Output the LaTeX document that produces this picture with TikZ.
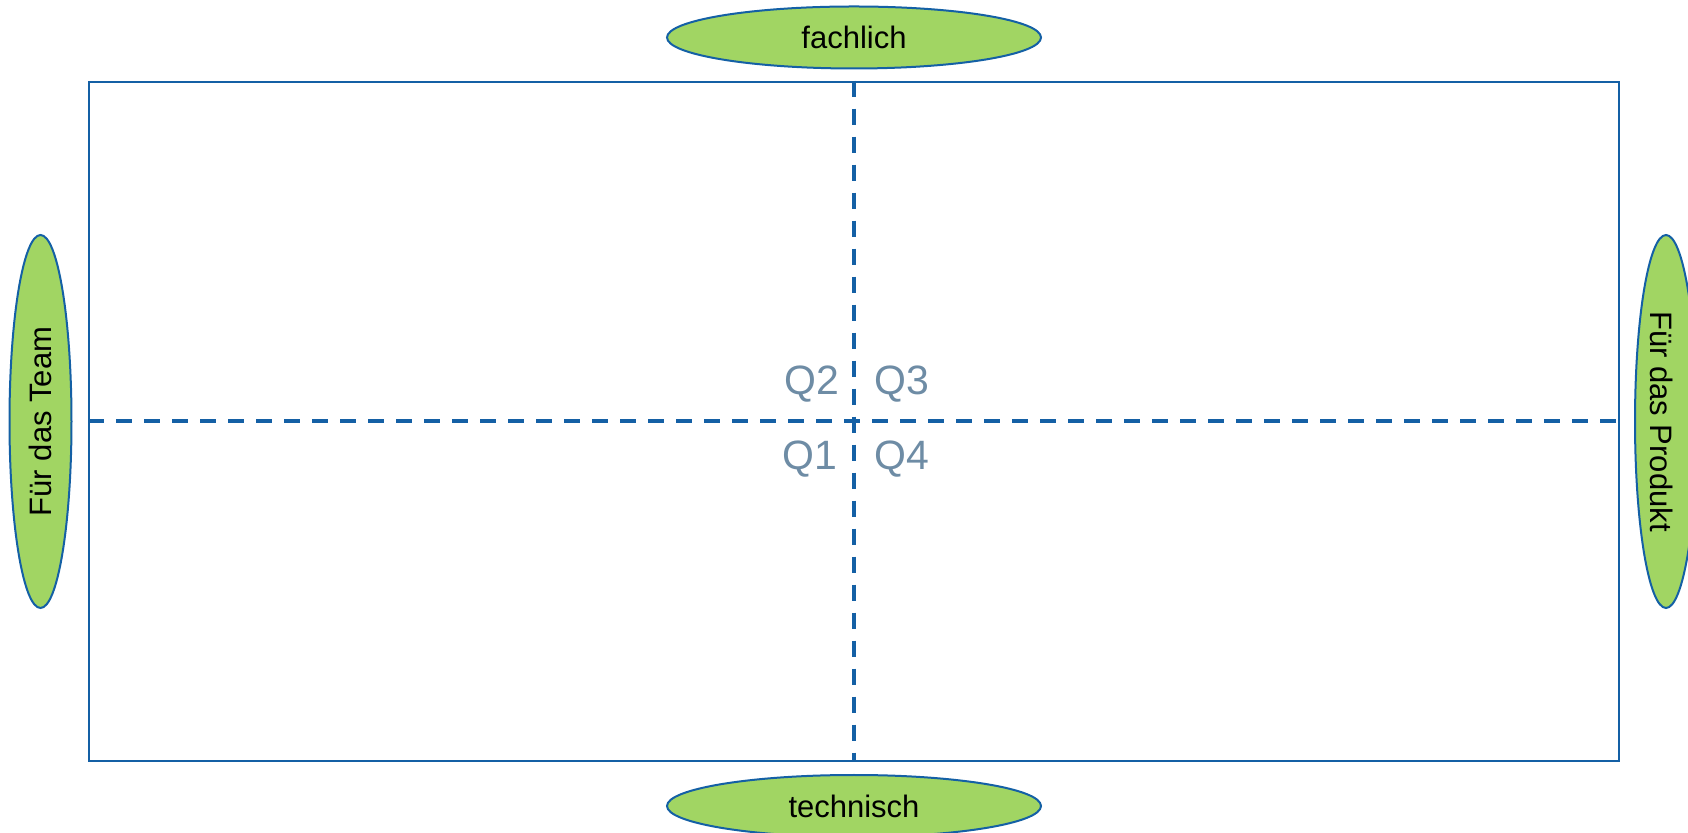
\documentclass[tikz,border=0pt]{standalone}
\usepackage{fontspec}
\setmainfont{Liberation Sans}
\usetikzlibrary{shapes.geometric}
\definecolor{lineblue}{RGB}{20,96,165}
\definecolor{fillgreen}{RGB}{161,213,99}
\definecolor{qgrey}{RGB}{110,140,165}
\tikzset{
  axisell/.style={ellipse, draw=lineblue, line width=2pt, fill=fillgreen, inner sep=0pt, font=\fontsize{31}{36}\selectfont, text=black},
  framebox/.style={draw=lineblue, line width=2pt, inner sep=0pt},
  axisline/.style={draw=lineblue, line width=4.3pt, dash pattern=on 16pt off 12pt},
  qlabel/.style={text=qgrey, font=\fontsize{41}{48}\selectfont, inner sep=0pt, anchor=base}
}
\begin{document}
\begin{tikzpicture}[x=1pt,y=1pt]
\useasboundingbox (0,0) rectangle (1688,832);
\node[framebox, minimum width=1530pt, minimum height=679.3pt] (frame) at (854.3,410.65) {};
\draw[axisline] (frame.north) -- (frame.south);
\draw[axisline] (frame.west) -- (frame.east);
\node[axisell, minimum width=374pt, minimum height=62pt] (top) at (854,794.5) {fachlich};
\node[axisell, minimum width=374pt, minimum height=62pt] (bottom) at (854,26) {technisch};
\node[axisell, minimum width=62pt, minimum height=373pt] (left) at (40.5,410.5) {};
\node[rotate=90, font=\fontsize{31}{36}\selectfont, inner sep=0pt] (lefttext) at (left.center) {Für das Team};
\node[axisell, minimum width=62pt, minimum height=373pt] (right) at (1666,410.5) {};
\node[rotate=-90, font=\fontsize{31}{36}\selectfont, inner sep=0pt] (righttext) at (1662,410.5) {Für das Produkt};
\node[qlabel] (q2) at (811.7,437) {Q2};
\node[qlabel] (q3) at (901.7,437) {Q3};
\node[qlabel] (q1) at (809.5,362) {Q1};
\node[qlabel] (q4) at (902,362) {Q4};
\end{tikzpicture}
\end{document}
